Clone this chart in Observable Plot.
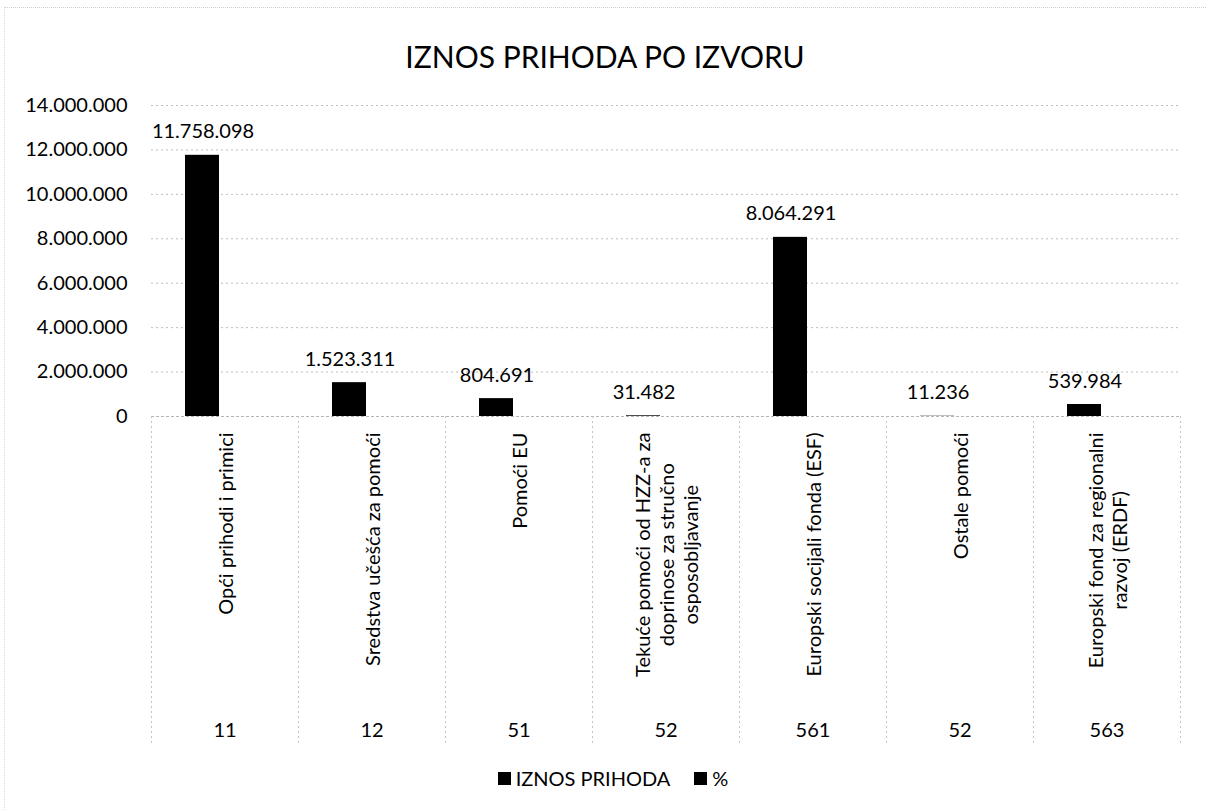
<!DOCTYPE html>
<html>
<head>
<meta charset="utf-8">
<script src="https://cdn.jsdelivr.net/npm/d3@7"></script>
<script src="https://cdn.jsdelivr.net/npm/@observablehq/plot@0.6"></script>
<style>
  html, body { margin: 0; padding: 0; background: #fff; }
  #wrap { position: relative; width: 1207px; height: 811px; overflow: hidden; font-family: Lato, "Open Sans", sans-serif; color: #000; }
  #edge { position: absolute; left: 4px; top: 7px; width: 1203px; height: 804px; border-top: 1px dotted #cfcfcf; border-left: 1px dotted #d8d8d8; }
  #title { position: absolute; left: 0; top: 38px; width: 1210px; text-align: center; font-size: 30px; line-height: 36px; }
  #chart { position: absolute; left: 0; top: 90px; }
  #legend { position: absolute; left: 0; top: 766px; width: 1226px; display: flex; justify-content: center; align-items: center; font-size: 20px; }
  #legend .sw { display: inline-block; width: 13px; height: 13px; background: #000; margin-right: 5px; }
  #legend .it { display: flex; align-items: center; margin: 0 12px; }
</style>
</head>
<body>
<div id="wrap">
  <div id="edge"></div>
  <div id="title"></div>
  <div id="chart"></div>
  <div id="legend"></div>
</div>
<script>
// ---- data ----
const categories = [
  "Opći prihodi i primici",
  "Sredstva učešća za pomoći",
  "Pomoći EU",
  "Tekuće pomoći od HZZ-a za doprinose za stručno osposobljavanje",
  "Europski socijali fonda (ESF)",
  "Ostale pomoći",
  "Europski fond za regionalni razvoj (ERDF)"
];
const categoryLabels = [
  "Opći prihodi i primici",
  "Sredstva učešća za pomoći",
  "Pomoći EU",
  "Tekuće pomoći od HZZ-a za\ndoprinose za stručno\nosposobljavanje",
  "Europski socijali fonda (ESF)",
  "Ostale pomoći",
  "Europski fond za regionalni\nrazvoj (ERDF)"
];
const sourceCodes = ["11", "12", "51", "52", "561", "52", "563"];
const iznosPrihoda = [11758098, 1523311, 804691, 31482, 8064291, 11236, 539984];
const yTicks = [0, 2000000, 4000000, 6000000, 8000000, 10000000, 12000000, 14000000];
const seriesNames = ["IZNOS PRIHODA", "%"];
const titleText = "IZNOS PRIHODA PO IZVORU";

const rows = categories.map((c, i) => ({
  category: c, label: categoryLabels[i], code: sourceCodes[i], value: iznosPrihoda[i]
}));

const fmt = d3.formatLocale({decimal: ",", thousands: ".", grouping: [3], currency: ["", "€"]}).format(",d");

// ---- layout ----
const W = 1207, H = 666, mT = 15, mB = 340, mL = 151, mR = 27;
const innerH = H - mT - mB;
const step = (W - mL - mR) / categories.length;
const font = "Lato, 'Open Sans', sans-serif";

document.getElementById("title").textContent = titleText;

const chart = Plot.plot({
  width: W, height: H,
  marginTop: mT, marginBottom: mB, marginLeft: mL, marginRight: mR,
  style: {fontFamily: font, fontSize: "20px", color: "#000", background: "transparent", overflow: "visible"},
  x: {domain: categories, padding: 0, axis: null},
  y: {domain: [0, 14000000], ticks: yTicks, tickFormat: fmt, tickSize: 0, tickPadding: 24, label: null, fontSize: 20},
  marks: [
    Plot.ruleY(yTicks.filter(d => d > 0), {stroke: "#bdbdbd", strokeDasharray: "2,3"}),
    Plot.ruleY([0], {stroke: "#b5b5b5", strokeDasharray: "3,2"}),
    Plot.ruleX(categories, {x: d => d, dx: -step / 2, insetTop: innerH, insetBottom: -330, stroke: "#c4c4c4", strokeDasharray: "2,3"}),
    Plot.ruleX(categories.slice(-1), {x: d => d, dx: step / 2, insetTop: innerH, insetBottom: -330, stroke: "#c4c4c4", strokeDasharray: "2,3"}),
    Plot.barY(rows, {x: "category", y: "value", fill: "#000", insetLeft: 34, insetRight: 79}),
    Plot.text(rows, {x: "category", y: "value", text: d => fmt(d.value), dx: -22, dy: -17, lineAnchor: "bottom", fontSize: 20, fill: "#000"}),
    Plot.text(rows, {x: "category", text: "label", frameAnchor: "bottom", rotate: -90, textAnchor: "middle", lineAnchor: "middle", lineHeight: 1.2, fontSize: 20, fill: "#000"}),
    Plot.text(rows, {x: "category", text: "code", frameAnchor: "bottom", dy: 320, lineAnchor: "bottom", fontSize: 20, fill: "#000"})
  ]
});
document.getElementById("chart").appendChild(chart);

// place rotated category labels so that their longest line starts just below the axis
const textGroups = chart.querySelectorAll('g[aria-label="text"]');
const catGroup = textGroups[1];
if (catGroup) {
  catGroup.querySelectorAll(":scope > text").forEach(t => {
    const bb = t.getBBox();
    const d = 16 + bb.width / 2;
    t.setAttribute("transform", (t.getAttribute("transform") || "") + ` translate(${-d},0)`);
  });
}

// legend
const lg = document.getElementById("legend");
seriesNames.forEach(n => {
  const it = document.createElement("span");
  it.className = "it";
  const sw = document.createElement("span");
  sw.className = "sw";
  const tx = document.createElement("span");
  tx.textContent = n;
  it.appendChild(sw); it.appendChild(tx);
  lg.appendChild(it);
});
</script>
</body>
</html>
